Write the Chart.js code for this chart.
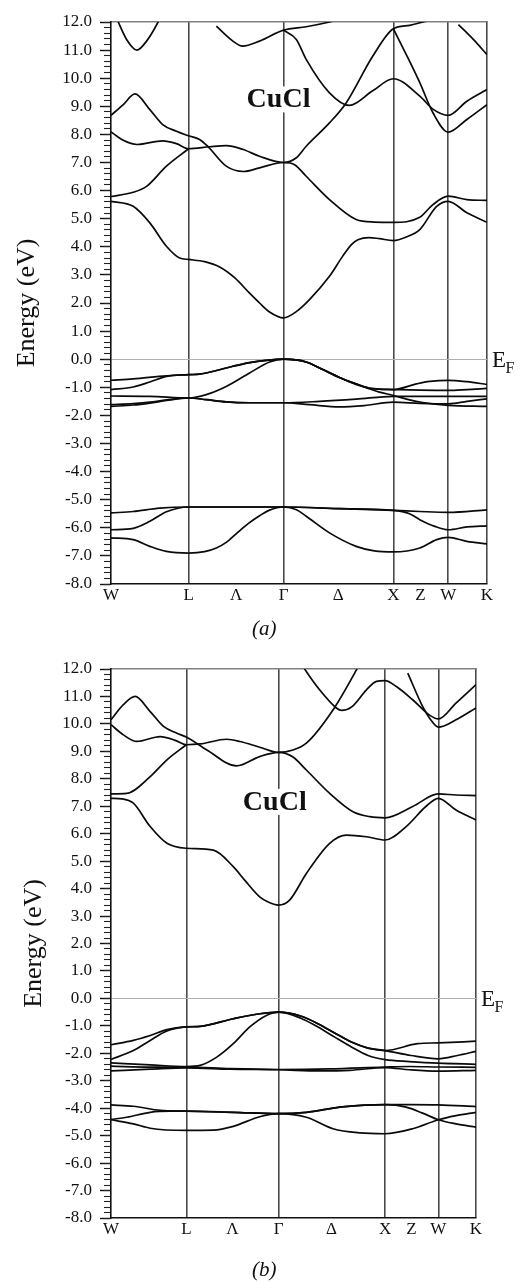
<!DOCTYPE html>
<html>
<head>
<meta charset="utf-8">
<title>CuCl band structure</title>
<script src="https://cdn.jsdelivr.net/npm/chart.js@4.4.1/dist/chart.umd.min.js"></script>
<style>
  html, body { margin: 0; padding: 0; background: #fff; }
  body { width: 520px; height: 1282px; position: relative; overflow: hidden; }
  canvas { position: absolute; left: 0; }
  #bandsA { top: 0; }
  #bandsB { top: 640px; }
  .caption { position: absolute; left: 252px; font: italic 21px "Liberation Serif", serif; line-height: 21px; color: #111; }
</style>
</head>
<body>
<canvas id="bandsA" width="520" height="620"></canvas>
<canvas id="bandsB" width="520" height="620"></canvas>
<div class="caption" style="top:618px">(a)</div>
<div class="caption" style="top:1259px">(b)</div>
<script>
// k-path W – L – Γ – X – W – K, distances in units of 2π/a
const symK = [0, 0.7071, 1.5731, 2.5731, 3.0731, 3.4267];
const pathLabels = ['W', 'L', 'Λ', 'Γ', 'Δ', 'X', 'Z', 'W', 'K'];
const pathLabelK = [0, 0.7071, 1.14, 1.5731, 2.07, 2.5731, 2.82, 3.0731, 3.4267];
const energyMin = -8;
const energyMax = 12;

// ---- panel (a): bands as [k, E (eV)] ----
const A_c1 = [[0,12.6],[0.066,12.0],[0.142,11.38],[0.236,11.0],[0.324,11.32],[0.429,12.0],[0.499,12.6]];
const A_c2 = [[0,8.68],[0.112,9.06],[0.218,9.44],[0.354,8.88],[0.471,8.35],[0.596,8.11],[0.7071,7.95],[0.807,7.82],[0.880,7.58],[1.050,6.87],[1.208,6.68],[1.354,6.81],[1.5731,7.0],[1.673,6.92],[1.779,6.51],[1.991,5.68],[2.234,4.97],[2.400,4.88],[2.5731,4.87],[2.814,5.05],[2.934,5.5],[3.0731,5.8],[3.243,5.68],[3.4267,5.65]];
const A_c3 = [[0,8.09],[0.112,7.79],[0.236,7.64],[0.471,7.77],[0.596,7.67],[0.7071,7.49],[0.899,7.56],[1.050,7.60],[1.199,7.47],[1.354,7.22],[1.5731,7.0],[1.689,7.17],[1.779,7.58],[1.991,8.41],[2.143,9.12],[2.385,10.78],[2.5731,11.76],[2.721,11.88],[2.844,12.0],[2.952,12.1]];
const A_c4 = [[0,5.79],[0.202,5.94],[0.324,6.15],[0.505,6.87],[0.7071,7.49]];
const A_c5 = [[0,5.62],[0.202,5.44],[0.354,4.85],[0.505,4.02],[0.626,3.6],[0.7071,3.55],[0.853,3.47],[0.990,3.28],[1.126,2.9],[1.263,2.35],[1.354,2.0],[1.445,1.68],[1.5731,1.47],[1.691,1.7],[1.809,2.12],[1.991,2.95],[2.109,3.65],[2.191,4.08],[2.25,4.25],[2.35,4.33],[2.446,4.29],[2.5731,4.22],[2.693,4.35],[2.814,4.61],[2.968,5.44],[3.0731,5.62],[3.243,5.21],[3.4267,4.87]];
const A_c6 = [[2.5731,11.76],[2.691,10.84],[2.814,9.84],[2.934,8.77],[3.0731,8.08],[3.243,8.53],[3.4267,9.06]];
const A_c7 = [[1.5731,11.71],[1.689,11.38],[1.779,10.67],[1.991,9.48],[2.173,9.03],[2.385,9.55],[2.5731,9.98],[2.814,9.36],[2.937,8.89],[3.0731,8.68],[3.243,9.18],[3.4267,9.6]];
const A_c8 = [[0.960,11.85],[1.111,11.32],[1.199,11.14],[1.354,11.32],[1.5731,11.71],[1.779,11.83],[1.991,12.0],[2.082,12.1]];
const A_c9 = [[3.166,11.91],[3.302,11.38],[3.4267,10.84]];
const A_v1 = [[0,-0.75],[0.202,-0.70],[0.505,-0.59],[0.7071,-0.55],[0.807,-0.53],[0.944,-0.42],[1.111,-0.25],[1.263,-0.12],[1.415,-0.04],[1.5731,0],[1.779,-0.1],[1.930,-0.37],[2.082,-0.65],[2.234,-0.88],[2.385,-1.05],[2.5731,-1.08],[2.783,-0.88],[2.906,-0.79],[3.0731,-0.75],[3.245,-0.80],[3.4267,-0.90]];
const A_v2 = [[0,-1.08],[0.202,-0.99],[0.354,-0.81],[0.505,-0.61],[0.7071,-0.55],[0.807,-0.53],[0.944,-0.42],[1.111,-0.25],[1.263,-0.12],[1.415,-0.04],[1.5731,0],[1.779,-0.1],[1.930,-0.37],[2.082,-0.65],[2.234,-0.88],[2.385,-1.05],[2.5731,-1.08],[2.814,-1.10],[3.0731,-1.11],[3.245,-1.08],[3.4267,-1.04]];
const A_v3 = [[0,-1.31],[0.354,-1.32],[0.7071,-1.38],[0.868,-1.26],[1.050,-0.97],[1.263,-0.49],[1.445,-0.10],[1.5731,0],[1.779,-0.1],[1.930,-0.37],[2.082,-0.65],[2.234,-0.90],[2.328,-1.02],[2.446,-1.17],[2.5731,-1.29],[2.721,-1.45],[2.841,-1.54],[3.0731,-1.64],[3.4267,-1.68]];
const A_v4 = [[0,-1.62],[0.202,-1.58],[0.354,-1.53],[0.505,-1.45],[0.7071,-1.38],[0.868,-1.44],[1.050,-1.52],[1.263,-1.55],[1.5731,-1.55],[1.900,-1.50],[2.234,-1.42],[2.5731,-1.32],[2.814,-1.32],[3.0731,-1.32],[3.4267,-1.32]];
const A_v5 = [[0,-1.68],[0.202,-1.63],[0.354,-1.56],[0.505,-1.47],[0.7071,-1.38],[0.868,-1.44],[1.050,-1.52],[1.263,-1.55],[1.5731,-1.55],[1.809,-1.62],[2.082,-1.70],[2.309,-1.65],[2.5731,-1.53],[2.814,-1.57],[3.0731,-1.59],[3.245,-1.50],[3.4267,-1.41]];
const A_l1 = [[0,-5.47],[0.202,-5.42],[0.444,-5.30],[0.7071,-5.26],[1.136,-5.26],[1.5731,-5.26],[2.082,-5.32],[2.5731,-5.38],[2.814,-5.42],[3.0731,-5.45],[3.4267,-5.36]];
const A_l2 = [[0,-6.07],[0.202,-6.02],[0.354,-5.77],[0.505,-5.43],[0.7071,-5.26],[1.136,-5.26],[1.5731,-5.26],[2.082,-5.32],[2.5731,-5.38],[2.721,-5.5],[2.814,-5.71],[2.952,-5.95],[3.0731,-6.07],[3.245,-5.97],[3.4267,-5.93]];
const A_l3 = [[0,-6.36],[0.202,-6.42],[0.354,-6.66],[0.505,-6.84],[0.7071,-6.90],[0.853,-6.85],[0.960,-6.72],[1.05,-6.52],[1.15,-6.18],[1.25,-5.85],[1.354,-5.57],[1.445,-5.37],[1.5731,-5.26],[1.691,-5.36],[1.779,-5.59],[1.991,-6.18],[2.234,-6.66],[2.400,-6.82],[2.5731,-6.86],[2.814,-6.72],[2.968,-6.42],[3.0731,-6.34],[3.243,-6.48],[3.4267,-6.57]];

// ---- panel (b) ----
const B_c1 = [[0,10.15],[0.116,10.70],[0.226,11.0],[0.368,10.45],[0.493,9.91],[0.619,9.66],[0.7071,9.52],[0.900,9.05],[1.179,8.47],[1.396,8.81],[1.5731,8.96],[1.705,8.80],[1.834,8.32],[2.053,7.47],[2.272,6.80],[2.429,6.62],[2.5731,6.58],[2.832,6.99],[3.0731,7.45],[3.239,7.41],[3.4267,7.39]];
const B_c2 = [[0,9.97],[0.116,9.6],[0.242,9.36],[0.462,9.54],[0.603,9.40],[0.7071,9.24],[0.837,9.27],[1.086,9.44],[1.210,9.36],[1.396,9.15],[1.5731,8.96],[1.708,9.05],[1.834,9.30],[2.084,10.51],[2.304,11.97],[2.335,12.2]];
const B_c3 = [[0,7.45],[0.148,7.47],[0.368,8.08],[0.525,8.69],[0.7071,9.24]];
const B_c4 = [[0,7.29],[0.104,7.27],[0.210,7.11],[0.368,6.26],[0.525,5.65],[0.7071,5.47],[0.961,5.40],[1.148,4.80],[1.257,4.30],[1.396,3.70],[1.471,3.52],[1.5731,3.40],[1.677,3.58],[1.834,4.55],[2.053,5.65],[2.210,5.95],[2.398,5.89],[2.5731,5.77],[2.771,6.26],[2.956,6.99],[3.0731,7.29],[3.239,6.86],[3.4267,6.50]];
const B_c5 = [[1.771,12.3],[1.818,12.0],[1.959,11.24],[2.116,10.58],[2.166,10.49],[2.260,10.62],[2.398,11.24],[2.492,11.55],[2.5731,11.58],[2.679,11.36],[2.832,10.88],[2.987,10.33],[3.0731,10.18],[3.239,10.76],[3.4267,11.43]];
const B_c6 = [[2.786,11.85],[2.925,10.64],[2.996,10.18],[3.0731,9.88],[3.239,10.15],[3.4267,10.58]];
const B_v1 = [[0,-1.69],[0.210,-1.53],[0.368,-1.35],[0.525,-1.14],[0.7071,-1.04],[0.837,-1.02],[1.148,-0.74],[1.396,-0.56],[1.5731,-0.50],[1.787,-0.65],[1.943,-0.92],[2.100,-1.26],[2.257,-1.59],[2.413,-1.81],[2.5731,-1.90],[2.879,-1.65],[3.0731,-1.62],[3.4267,-1.56]];
const B_v2 = [[0,-2.22],[0.210,-1.90],[0.368,-1.53],[0.525,-1.19],[0.7071,-1.04],[0.837,-1.02],[1.148,-0.74],[1.396,-0.56],[1.5731,-0.50],[1.787,-0.65],[1.943,-0.92],[2.100,-1.26],[2.257,-1.59],[2.413,-1.81],[2.5731,-1.90],[2.817,-2.08],[3.0731,-2.20],[3.252,-2.08],[3.4267,-1.93]];
const B_v3 = [[0,-2.35],[0.368,-2.42],[0.7071,-2.48],[0.837,-2.44],[0.993,-2.14],[1.148,-1.65],[1.303,-1.04],[1.459,-0.62],[1.5731,-0.50],[1.787,-0.73],[1.943,-1.04],[2.100,-1.41],[2.257,-1.77],[2.413,-2.08],[2.5731,-2.23],[2.802,-2.30],[3.0731,-2.36],[3.4267,-2.40]];
const B_v4 = [[0,-2.47],[0.368,-2.50],[0.7071,-2.50],[1.117,-2.56],[1.5731,-2.59],[2.053,-2.57],[2.5731,-2.50],[2.802,-2.48],[3.0731,-2.50],[3.4267,-2.51]];
const B_v5 = [[0,-2.64],[0.368,-2.58],[0.7071,-2.53],[1.117,-2.58],[1.5731,-2.60],[1.959,-2.64],[2.241,-2.62],[2.5731,-2.52],[2.802,-2.60],[3.0731,-2.65],[3.4267,-2.62]];
const B_l1 = [[0,-3.88],[0.210,-3.93],[0.462,-4.08],[0.7071,-4.11],[1.148,-4.15],[1.5731,-4.20],[1.834,-4.15],[2.147,-3.96],[2.382,-3.89],[2.5731,-3.87],[2.820,-3.87],[3.0731,-3.88],[3.4267,-3.94]];
const B_l2 = [[0,-4.41],[0.148,-4.33],[0.368,-4.15],[0.556,-4.11],[0.7071,-4.11],[1.148,-4.15],[1.5731,-4.20],[1.834,-4.15],[2.147,-3.96],[2.382,-3.89],[2.5731,-3.87],[2.771,-3.96],[2.925,-4.18],[3.0731,-4.42],[3.239,-4.57],[3.4267,-4.69]];
const B_l3 = [[0,-4.42],[0.210,-4.57],[0.368,-4.73],[0.7071,-4.81],[0.961,-4.80],[1.148,-4.66],[1.396,-4.31],[1.5731,-4.20],[1.834,-4.33],[2.084,-4.75],[2.335,-4.90],[2.5731,-4.93],[2.832,-4.75],[3.0731,-4.42],[3.239,-4.27],[3.4267,-4.15]];

const bandsA = [A_c1, A_c2, A_c3, A_c4, A_c5, A_c6, A_c7, A_c8, A_c9, A_v1, A_v2, A_v3, A_v4, A_v5, A_l1, A_l2, A_l3];
const bandsB = [B_c1, B_c2, B_c3, B_c4, B_c5, B_c6, B_v1, B_v2, B_v3, B_v4, B_v5, B_l1, B_l2, B_l3];

const SERIF = '"Liberation Serif", "Times New Roman", serif';
Chart.defaults.font.family = SERIF;

// Compound name (with a white backing box) and the Fermi-level tag at the right edge
const bandNotes = {
  id: 'bandNotes',
  afterDatasetsDraw(chart, args, opts) {
    const { ctx, chartArea, scales } = chart;
    const xs = scales.x, ys = scales.y;
    ctx.save();
    ctx.textAlign = 'left';
    ctx.textBaseline = 'alphabetic';
    ctx.font = 'bold 28px ' + SERIF;
    const nx = xs.getPixelForValue(opts.at[0]);
    const ny = ys.getPixelForValue(opts.at[1]);
    const nw = ctx.measureText(opts.name).width;
    ctx.fillStyle = '#fff';
    ctx.fillRect(nx - 2, ny - 21, nw + 4, 26);
    ctx.fillStyle = '#111';
    ctx.fillText(opts.name, nx, ny);
    const y0 = ys.getPixelForValue(0);
    const ex = chartArea.right + 5;
    ctx.font = '23px ' + SERIF;
    ctx.fillText('E', ex, y0 + 8);
    const ew = ctx.measureText('E').width;
    ctx.font = '16px ' + SERIF;
    ctx.fillText('F', ex + ew - 0.5, y0 + 14);
    ctx.restore();
  }
};

function drawPanel(canvasId, bands, pad, titlePad, nameAt) {
  return new Chart(document.getElementById(canvasId), {
    type: 'line',
    data: {
      datasets: bands.map(b => ({
        data: b.map(([k, e]) => ({ x: k, y: e })),
        borderColor: '#0a0a0a',
        borderWidth: 1.7,
        pointRadius: 0,
        fill: false,
        cubicInterpolationMode: 'monotone'
      }))
    },
    options: {
      responsive: false,
      animation: false,
      events: [],
      layout: { padding: pad },
      plugins: {
        legend: { display: false },
        tooltip: { enabled: false },
        bandNotes: { name: 'CuCl', at: nameAt }
      },
      scales: {
        x: {
          type: 'linear', position: 'bottom', min: symK[0], max: symK[symK.length - 1],
          afterBuildTicks: s => { s.ticks = pathLabelK.map(v => ({ value: v })); },
          afterFit: s => { s.height = 30; },
          ticks: {
            autoSkip: false, maxRotation: 0, padding: 1, color: '#111',
            font: { size: 17 },
            callback: (v, i) => pathLabels[i]
          },
          grid: {
            drawTicks: false, lineWidth: 1.6,
            color: c => (c.tick && symK.indexOf(c.tick.value) > 0) ? '#4a4a4a' : 'rgba(0,0,0,0)'
          },
          border: { display: true, color: '#111', width: 1.6 }
        },
        xTop: {
          type: 'linear', position: 'top', min: symK[0], max: symK[symK.length - 1],
          afterFit: s => { s.height = 0; },
          ticks: { display: false },
          grid: { display: false, drawTicks: false },
          border: { display: true, color: '#808080', width: 1.6 }
        },
        y: {
          type: 'linear', position: 'left', weight: 1, min: energyMin, max: energyMax,
          afterFit: s => { s.width = 111; },
          ticks: {
            stepSize: 1, maxTicksLimit: 1000, autoSkip: false, padding: 8, color: '#111',
            font: { size: 17 },
            callback: v => v.toFixed(1)
          },
          grid: {
            drawOnChartArea: true, drawTicks: true, tickLength: 11, tickWidth: 1.4,
            tickColor: '#111', lineWidth: 1,
            color: c => (c.tick && c.tick.value === 0) ? '#b0b0b0' : 'rgba(0,0,0,0)'
          },
          border: { display: true, color: '#111', width: 1.6 },
          title: {
            display: true, text: 'Energy (eV)', color: '#111',
            font: { size: 26 }, padding: { top: titlePad, bottom: 0 }
          }
        },
        yMinor: {
          type: 'linear', position: 'left', weight: 0, min: energyMin, max: energyMax,
          afterFit: s => { s.width = 0; },
          ticks: { display: false, stepSize: 0.2, maxTicksLimit: 1000 },
          grid: {
            drawOnChartArea: false, drawTicks: true, tickLength: 7, tickWidth: 1.1,
            tickColor: '#222', color: 'rgba(0,0,0,0)'
          },
          border: { display: false }
        }
      }
    },
    plugins: [bandNotes]
  });
}

drawPanel('bandsA', bandsA, { left: 0, right: 33, top: 22, bottom: 6 }, 12, [1.236, 8.96]);
drawPanel('bandsB', bandsB, { left: 0, right: 44, top: 29, bottom: 12 }, 19, [1.238, 6.87]);
</script>
</body>
</html>
